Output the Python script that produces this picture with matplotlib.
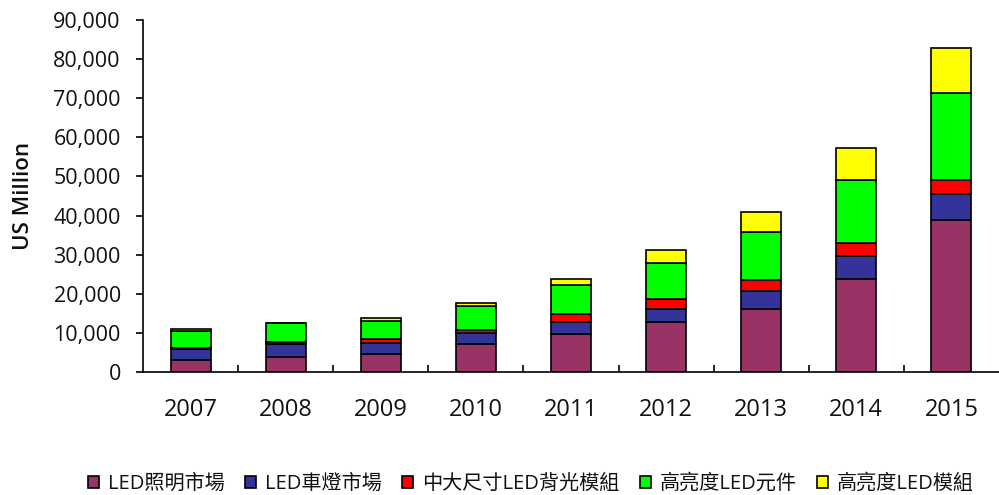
import matplotlib
matplotlib.use("Agg")
import matplotlib.pyplot as plt
import numpy as np

plt.rcParams['font.family'] = ['Open Sans', 'Noto Sans CJK TC', 'DejaVu Sans']

years = ['2007', '2008', '2009', '2010', '2011', '2012', '2013', '2014', '2015']
series_names = ['LED照明市場', 'LED車燈市場', '中大尺寸LED背光模組', '高亮度LED元件', '高亮度LED模組']
lighting   = [3100, 3900, 4700, 7100, 9700, 12900, 16200, 23900, 38900]
auto       = [2800, 3200, 2800, 2800, 3200, 3250, 4400, 5700, 6650]
backlight  = [200, 500, 850, 900, 1950, 2550, 2800, 3300, 3600]
hb_comp    = [4500, 4900, 4750, 6200, 7350, 9200, 12300, 16200, 22300]
hb_module  = [300, 100, 600, 600, 1700, 3400, 5300, 8200, 11400]
colors = ['#993366', '#333399', '#FF0000', '#00FF00', '#FFFF00']

fig = plt.figure(figsize=(9.99, 4.95), dpi=100)
ax = fig.add_axes([143/999, 1-372/495, 1-143/999, (372-20)/495])

x = np.arange(len(years))
bottom = np.zeros(len(years))
for name, vals, c in zip(series_names, [lighting, auto, backlight, hb_comp, hb_module], colors):
    ax.bar(x, vals, width=0.42, bottom=bottom, color=c, edgecolor='black', linewidth=1.2, label=name)
    bottom += np.array(vals)

ax.set_xlim(-0.5, len(years) - 0.5)
ax.set_ylim(0, 90000)
ax.set_yticks(np.arange(0, 90001, 10000))
ax.set_yticklabels([f'{v:,}' for v in range(0, 90001, 10000)], fontsize=15.5, color='#111111')
ax.set_xticks(x)
ax.set_xticklabels(years, fontsize=17, color='#111111')
ax.set_xticks(np.arange(0.5, len(years) - 0.5, 1), minor=True)
ax.tick_params(axis='x', which='major', length=0, pad=19)
ax.tick_params(axis='x', which='minor', length=5, direction='in', width=1.2)
ax.tick_params(axis='y', length=5, direction='out', width=1.2, pad=11)
for s in ['top', 'right']:
    ax.spines[s].set_visible(False)
for s in ['left', 'bottom']:
    ax.spines[s].set_linewidth(1.2)
ax.set_ylabel('US Million', fontsize=16, fontweight='semibold', labelpad=14, color='#111111')

handles, labels = ax.get_legend_handles_labels()
leg = fig.legend(handles, labels, loc='center', bbox_to_anchor=(531/999, 1-484/495), ncol=5,
                 frameon=False, handlelength=0.55, handleheight=0.55,
                 handletextpad=0.45, columnspacing=1.0,
                 prop={'family': ['Open Sans', 'Noto Sans CJK TC'], 'size': 14.5})
for t in leg.get_texts():
    t.set_color('#111111')

fig.savefig('out.png', dpi=100)
